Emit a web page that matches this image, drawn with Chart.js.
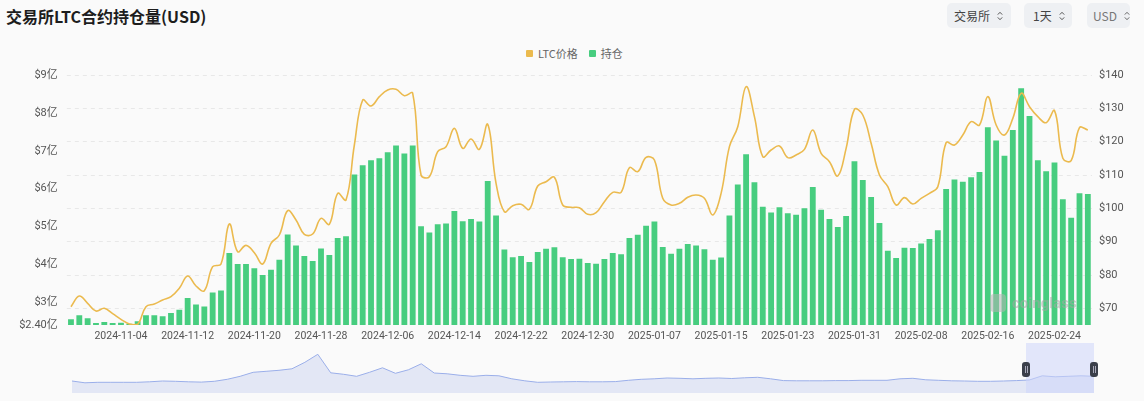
<!DOCTYPE html>
<html>
<head>
<meta charset="utf-8">
<script src="https://cdn.jsdelivr.net/npm/chart.js@4.4.1/dist/chart.umd.min.js"></script>
<style>
  html, body { margin:0; padding:0; background:#fafafa; width:1144px; height:401px; overflow:hidden; }
  body { position:relative; font-family: Roboto, "Noto Sans CJK SC", sans-serif; }
  #title { position:absolute; left:6px; top:5px; font-weight:bold; font-size:16px; line-height:22px;
           font-family:"Noto Sans CJK SC", sans-serif; color:#1d1d1d; white-space:nowrap; }
  .btn { position:absolute; top:3px; height:25px; background:#eef0f3; border-radius:5px;
         font-size:12px; font-family:"Noto Sans CJK SC", Roboto, sans-serif; color:#444;
         display:flex; align-items:center; box-sizing:border-box; padding-left:7px; white-space:nowrap; }
  .btn svg { margin-left:7px; }
  #legend { position:absolute; top:45px; left:526px; height:16px; display:flex; align-items:center;
            font-size:11px; color:#666; font-family:"Noto Sans CJK SC", Roboto, sans-serif; white-space:nowrap; }
  #legend .sw { width:7px; height:7px; border-radius:1px; margin-right:5px; display:inline-block; }
  #legend .item { display:flex; align-items:center; margin-right:11px; }
  #main { position:absolute; left:0; top:40px; }
  #nav { position:absolute; left:72px; top:343px; }
  #sel { position:absolute; left:1026px; top:343px; width:68px; height:50px; background:rgba(205,214,250,0.55); }
  .handle { position:absolute; top:362px; width:8px; height:15px; border-radius:3px; background:#3b3f4a; }
  .handle::after { content:""; position:absolute; left:2.5px; top:4px; width:1px; height:7px; border-left:1px solid #aab; border-right:1px solid #aab; box-sizing:content-box; }
  #wm { position:absolute; left:990px; top:294px; display:flex; align-items:center; opacity:0.55; }
  #wm .logo { width:16px; height:18px; border-radius:4px; background:#b5b5b5; margin-right:6px; }
  #wm .txt { font-size:15px; font-weight:bold; color:#a5a5a5; font-family:Roboto, sans-serif; }
</style>
</head>
<body>
<div id="title">交易所LTC合约持仓量(USD)</div>

<div class="btn" style="left:947px;width:64px;">交易所<svg width="6" height="10" viewBox="0 0 6 10"><path d="M0.8 3.6 L3 1.3 L5.2 3.6 M0.8 6.4 L3 8.7 L5.2 6.4" fill="none" stroke="#555" stroke-width="1"/></svg></div>
<div class="btn" style="left:1024px;width:48px;padding-left:9px;">1天<svg width="6" height="10" viewBox="0 0 6 10"><path d="M0.8 3.6 L3 1.3 L5.2 3.6 M0.8 6.4 L3 8.7 L5.2 6.4" fill="none" stroke="#555" stroke-width="1"/></svg></div>
<div class="btn" style="left:1087px;width:43px;padding-left:6px;color:#777;">USD<svg width="6" height="10" viewBox="0 0 6 10"><path d="M0.8 3.6 L3 1.3 L5.2 3.6 M0.8 6.4 L3 8.7 L5.2 6.4" fill="none" stroke="#666" stroke-width="1"/></svg></div>

<div id="legend">
  <div class="item"><span class="sw" style="background:#ebba4e"></span>LTC价格</div>
  <div class="item"><span class="sw" style="background:#47cd7f"></span>持仓</div>
</div>

<canvas id="main" width="1144" height="305"></canvas>
<div id="wm"><div class="logo"></div><div class="txt">coinglass</div></div>

<canvas id="nav" width="1022" height="50"></canvas>
<div id="sel"></div>
<div class="handle" style="left:1022px;"></div>
<div class="handle" style="left:1090px;"></div>

<script>
// ---------------- DATA ----------------
const startDate = [2024, 10, 29]; // first category: 2024-10-29 (daily)

// Open interest, in 亿 USD (1亿 = 1e8)
const oiYi = [
  2.55, 2.66, 2.58, 2.45, 2.48, 2.45, 2.46, 2.43, 2.50, 2.66,
  2.66, 2.63, 2.72, 2.80, 3.11, 2.94, 2.89, 3.26, 3.31, 4.30,
  4.01, 4.01, 3.90, 3.72, 3.86, 4.12, 4.79, 4.50, 4.22, 4.09,
  4.42, 4.25, 4.70, 4.74, 6.37, 6.62, 6.75, 6.80, 6.96, 7.14,
  6.93, 7.14, 5.01, 4.84, 5.06, 5.08, 5.41, 5.14, 5.20, 5.13,
  6.20, 5.29, 4.39, 4.19, 4.22, 4.06, 4.33, 4.41, 4.45, 4.19,
  4.14, 4.15, 4.04, 4.02, 4.14, 4.30, 4.27, 4.70, 4.78, 5.02,
  5.13, 4.46, 4.28, 4.41, 4.54, 4.50, 4.40, 4.12, 4.18, 5.29,
  6.11, 6.91, 6.17, 5.52, 5.37, 5.51, 5.35, 5.31, 5.48, 6.04,
  5.44, 5.20, 4.99, 5.28, 6.72, 6.23, 5.78, 5.09, 4.36, 4.17,
  4.44, 4.43, 4.55, 4.67, 4.90, 5.99, 6.24, 6.18, 6.30, 6.44,
  7.62, 7.27, 6.87, 7.55, 8.65, 7.92, 6.75, 6.46, 6.69, 5.72,
  5.23, 5.88, 5.86
];

// LTC price, USD
const ltcPrice = [
  70.5, 73.7, 71.5, 69.2, 70.0, 68.4, 66.7, 65.3, 65.2, 70.5,
  71.3, 72.5, 73.5, 76.0, 79.7, 76.7, 75.3, 82.5, 83.3, 95.3,
  87.0, 88.9, 86.7, 83.3, 89.5, 92.0, 99.3, 96.5, 92.2, 92.3,
  97.0, 95.2, 104.5, 102.5, 119.0, 132.5, 130.7, 133.5, 135.5, 135.7,
  133.8, 134.5, 110.0, 109.5, 117.0, 118.5, 124.0, 118.0, 120.8, 117.7,
  125.2, 107.5, 99.0, 100.8, 101.2, 99.7, 106.7, 108.0, 109.3, 101.0,
  100.3, 100.2, 98.2, 98.7, 102.0, 104.8, 104.8, 112.2, 111.0, 115.3,
  114.5, 103.0, 101.0, 101.5, 103.3, 104.0, 103.0, 98.0, 104.5, 118.5,
  124.5, 136.5, 127.5, 115.5, 117.5, 118.7, 115.2, 116.0, 117.7, 123.5,
  116.5, 114.0, 109.7, 118.0, 129.7, 128.0, 119.5, 110.0, 106.5, 101.0,
  103.2, 101.3, 103.0, 104.5, 106.5, 119.7, 119.0, 122.0, 126.0, 125.0,
  133.5, 125.0, 122.0, 127.0, 134.5, 130.5, 127.5, 125.7, 129.3, 115.0,
  114.3, 124.2, 123.5
];

// Tick labels shown on the axes
const xTickLabels = ['2024-11-04','2024-11-12','2024-11-20','2024-11-28','2024-12-06','2024-12-14',
  '2024-12-22','2024-12-30','2025-01-07','2025-01-15','2025-01-23','2025-01-31','2025-02-08',
  '2025-02-16','2025-02-24'];
const oiTicks = [2.4, 3, 4, 5, 6, 7, 8, 9];
const priceTicks = [70, 80, 90, 100, 110, 120, 130, 140];

// Navigator overview (long-range open interest, relative units)
const navData = [
  12, 10.2, 10.7, 10.7, 10.7, 10.7, 11.2, 12, 11.7, 11.2,
  10.9, 11.7, 13.7, 16.7, 20.7, 21.7, 22.7, 24.2, 30.7, 38.7,
  20.2, 18.7, 16.7, 20.7, 25.2, 19.7, 23.2, 29.2, 20, 19.2,
  17.7, 16.7, 17.7, 17.2, 14.2, 12.2, 10.7, 11, 11.2, 11.4,
  11.2, 11.2, 11.4, 12.7, 13.7, 14.2, 15, 14.7, 14.2, 14.7,
  15, 14.5, 15.2, 15.7, 14.2, 12.4, 12.2, 12.2, 12.2, 12.4,
  12.4, 12.7, 12.7, 12.7, 14.2, 14.7, 13.2, 12.7, 12.2, 12,
  11.7, 11.7, 12, 12.4, 13, 17.2, 16.2, 16.7, 17.2, 16.7
];

// ---------------- BUILD ----------------
const categories = oiYi.map((_, i) => {
  const d = new Date(Date.UTC(startDate[0], startDate[1] - 1, startDate[2] + i));
  return d.toISOString().slice(0, 10);
});

const tickFont = { family: 'Roboto, "Noto Sans CJK SC", sans-serif', size: 10.5 };

new Chart(document.getElementById('main').getContext('2d'), {
  data: {
    labels: categories,
    datasets: [
      {
        type: 'line', label: 'LTC价格', data: ltcPrice, yAxisID: 'yPrice',
        borderColor: '#ebba4e', borderWidth: 1.6, pointRadius: 0, tension: 0.4,
        fill: false, order: 0
      },
      {
        type: 'bar', label: '持仓', data: oiYi, yAxisID: 'yOI',
        backgroundColor: '#47cd7f', borderWidth: 0,
        barPercentage: 0.7, categoryPercentage: 1, order: 1
      }
    ]
  },
  options: {
    responsive: false, animation: false, devicePixelRatio: 1,
    layout: { padding: { top: 35, left: 0, right: 0, bottom: 0 } },
    plugins: { legend: { display: false }, tooltip: { enabled: false } },
    scales: {
      x: {
        offset: true,
        grid: { display: false, drawTicks: false },
        border: { display: false },
        ticks: { autoSkip: false, maxRotation: 0, minRotation: 0, padding: 5, color: '#555', font: tickFont },
        afterBuildTicks: s => { s.ticks = s.ticks.filter(t => xTickLabels.includes(categories[t.value])); },
        afterFit: s => { s.height = 20; }
      },
      yOI: {
        position: 'left', min: 2.4, max: 9,
        grid: { display: false, drawTicks: false },
        border: { display: false },
        ticks: {
          padding: 9, color: '#555', font: { family: tickFont.family, size: 11 },
          callback: v => (v === 2.4 ? '$2.40亿' : '$' + v + '亿')
        },
        afterBuildTicks: s => { s.ticks = oiTicks.map(v => ({ value: v })); },
        afterFit: s => { s.width = 66.8; }
      },
      yPrice: {
        position: 'right', min: 65, max: 140,
        grid: { color: '#e8e8e8', drawTicks: false, lineWidth: 1 },
        border: { display: false, dash: [4, 4] },
        ticks: {
          padding: 7, color: '#555', font: { family: tickFont.family, size: 11 },
          callback: v => '$' + v
        },
        afterBuildTicks: s => { s.ticks = priceTicks.map(v => ({ value: v })); },
        afterFit: s => { s.width = 52; }
      }
    }
  }
});

new Chart(document.getElementById('nav').getContext('2d'), {
  type: 'line',
  data: {
    labels: navData.map((_, i) => i),
    datasets: [{
      data: navData, borderColor: '#9aaee9', borderWidth: 1, pointRadius: 0, tension: 0,
      fill: 'origin', backgroundColor: 'rgba(200,208,240,0.45)'
    }]
  },
  options: {
    responsive: false, animation: false, devicePixelRatio: 1,
    layout: { padding: 0 },
    plugins: { legend: { display: false }, tooltip: { enabled: false } },
    scales: {
      x: { display: false, offset: false },
      y: { display: false, min: 0, max: 50 }
    }
  }
});
</script>
</body>
</html>
